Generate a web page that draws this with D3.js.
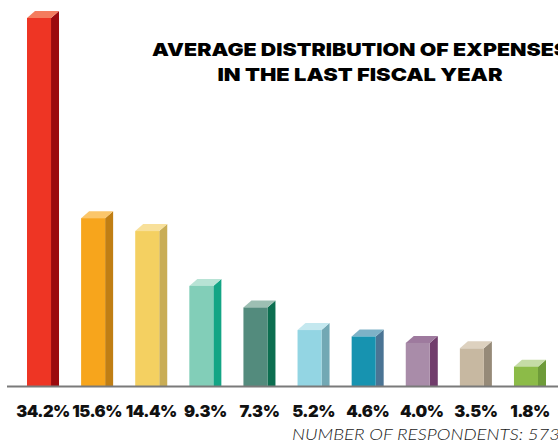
<!DOCTYPE html>
<html>
<head>
<meta charset="utf-8">
<script src="https://cdn.jsdelivr.net/npm/d3@7"></script>
<style>
  html, body { margin: 0; padding: 0; background: #fff; overflow: hidden; }
  svg { display: block; }
</style>
</head>
<body>
<svg id="chart" width="558" height="443"></svg>
<script>
// ---- data ----
const categories = ["c1","c2","c3","c4","c5","c6","c7","c8","c9","c10"];
const values = [34.2, 15.6, 14.4, 9.3, 7.3, 5.2, 4.6, 4.0, 3.5, 1.8];
const valueLabels = ["34.2%","15.6%","14.4%","9.3%","7.3%","5.2%","4.6%","4.0%","3.5%","1.8%"];
const frontColors = ["#ee3524","#f7a51c","#f4d061","#82ceb8","#538b7d","#93d5e3","#1793b0","#a98ca9","#c7b8a1","#8cbb48"];
const sideColors  = ["#9b0a0e","#c07e14","#c9ad55","#13a585","#0c6e50","#72a8b4","#4a7494","#713d6c","#968a78","#6e9b39"];
const topColors   = ["#f47c5e","#fbc66a","#f8e09a","#b8e3d5","#9dbfb3","#c4e8ef","#7eb2c7","#9e7a9e","#ddd1bf","#c5dca6"];
const titleLines = ["AVERAGE DISTRIBUTION OF EXPENSES", "IN THE LAST FISCAL YEAR"];
const footnote = "NUMBER OF RESPONDENTS: 573";

// ---- layout ----
const svg = d3.select("#chart");
const baseY = 386;
const topY = 18;
const dx = 8, dy = 7;

const x = d3.scaleBand().domain(categories).range([27, 538]).paddingInner(0.556).paddingOuter(0);
const y = d3.scaleLinear().domain([0, d3.max(values)]).range([baseY, topY]);
const bw = x.bandwidth();

const data = categories.map((c, i) => ({c, v: values[i], label: valueLabels[i], i}));

const g = svg.append("g");
const bars = g.selectAll("g.bar").data(data).join("g").attr("class", "bar");

// side face
bars.append("path")
  .attr("fill", d => sideColors[d.i])
  .attr("d", d => {
    const x0 = x(d.c) + bw, yt = y(d.v);
    return `M${x0},${yt} L${x0 + dx},${yt - dy} L${x0 + dx},${baseY} L${x0},${baseY} Z`;
  });
// top face
bars.append("path")
  .attr("fill", d => topColors[d.i])
  .attr("d", d => {
    const x0 = x(d.c), yt = y(d.v);
    return `M${x0},${yt} L${x0 + dx},${yt - dy} L${x0 + bw + dx},${yt - dy} L${x0 + bw},${yt} Z`;
  });
// front face
bars.append("rect")
  .attr("fill", d => frontColors[d.i])
  .attr("x", d => x(d.c))
  .attr("y", d => y(d.v))
  .attr("width", bw)
  .attr("height", d => baseY - y(d.v));

// baseline
svg.append("line")
  .attr("x1", 7).attr("x2", 558)
  .attr("y1", baseY + 0.5).attr("y2", baseY + 0.5)
  .attr("stroke", "#7a7a7a").attr("stroke-width", 2);

// value labels
svg.selectAll("text.val").data(data).join("text")
  .attr("class", "val")
  .attr("x", d => x(d.c) + (bw + dx) / 2)
  .attr("y", 417)
  .attr("text-anchor", "middle")
  .attr("font-family", "Inter, Roboto, sans-serif")
  .attr("font-weight", 900)
  .attr("font-size", 16.5)
  .attr("letter-spacing", -0.5)
  .attr("fill", "#111")
  .text(d => d.label);

// title
svg.selectAll("text.title").data(titleLines).join("text")
  .attr("class", "title")
  .attr("x", 360)
  .attr("y", (d, i) => 56 + i * 25)
  .attr("text-anchor", "middle")
  .attr("font-family", "Inter, Roboto, sans-serif")
  .attr("font-weight", 900)
  .attr("font-size", 18)
  .attr("fill", "#000")
  .attr("textLength", (d, i) => i === 0 ? 416 : 285)
  .attr("lengthAdjust", "spacingAndGlyphs")
  .text(d => d);

// footnote
svg.append("text")
  .attr("x", 292)
  .attr("y", 440)
  .attr("font-family", "Lato, 'Open Sans', sans-serif")
  .attr("font-style", "italic")
  .attr("font-weight", 300)
  .attr("font-size", 15)
  .attr("fill", "#1a1a1a")
  .attr("textLength", 268)
  .attr("lengthAdjust", "spacingAndGlyphs")
  .text(footnote);
</script>
</body>
</html>
